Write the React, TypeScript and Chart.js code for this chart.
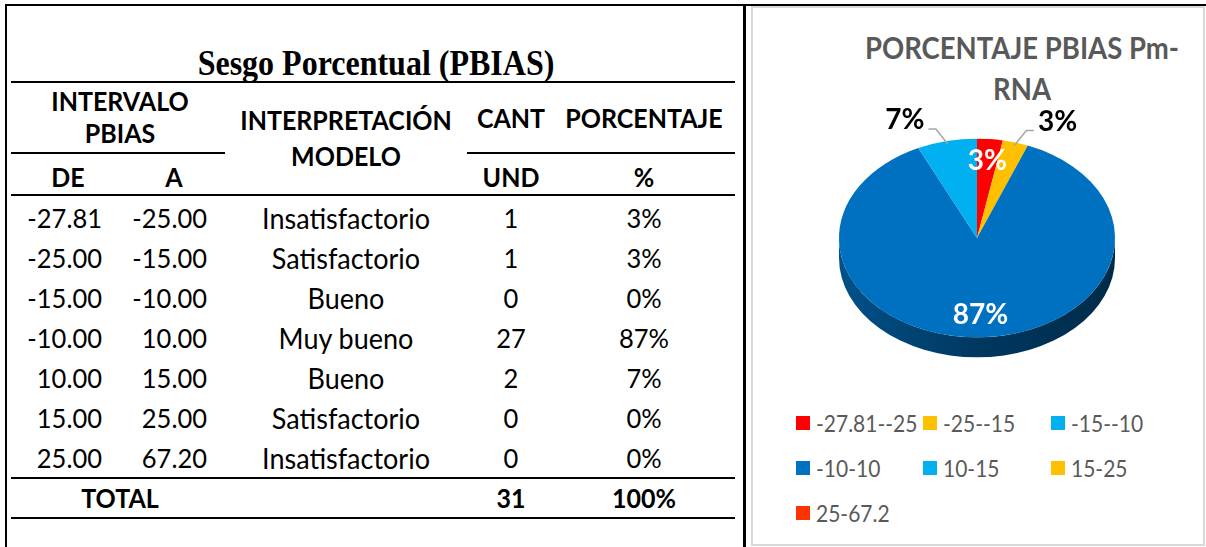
import React, { useEffect, useRef } from "react";
import { Chart, registerables } from "chart.js";

Chart.register(...registerables);

// ---------- data ----------
const TABLE_TITLE = "Sesgo Porcentual (PBIAS)";
const CHART_TITLE = ["PORCENTAJE PBIAS Pm-", "RNA"];
const DE = [-27.81, -25, -15, -10, 10, 15, 25];
const A = [-25, -15, -10, 10, 15, 25, 67.2];
const INTERPRETACION = [
  "Insatisfactorio",
  "Satisfactorio",
  "Bueno",
  "Muy bueno",
  "Bueno",
  "Satisfactorio",
  "Insatisfactorio",
];
const CANT = [1, 1, 0, 27, 2, 0, 0];
const PORCENTAJE = [3, 3, 0, 87, 7, 0, 0];
const RANGE_LABELS = DE.map((d, i) => `${d}-${A[i]}`);

// ---------- styles ----------
const SLICE_COLORS = ["#FF0000", "#FFC000", "#00B0F0", "#0070C0", "#00B0F0", "#FFC000", "#FF3300"];
const LABEL_OUTSIDE = [false, true, false, false, true, false, false];
const FONT = 'Lato, "Open Sans", sans-serif';
const TILT = 0.72;
const DEPTH = 20;

function shade(hex: string, f: number) {
  const n = parseInt(hex.slice(1), 16);
  const r = Math.round(((n >> 16) & 255) * f);
  const g = Math.round(((n >> 8) & 255) * f);
  const b = Math.round((n & 255) * f);
  return `rgb(${r},${g},${b})`;
}

const pie3d = {
  id: "pie3d",
  beforeDatasetsDraw(chart: any) {
    const meta = chart.getDatasetMeta(0);
    const arcs = meta.data as any[];
    const ctx = chart.ctx;
    chart.$tilted = false;
    if (!arcs.length) return;
    const { x: cx, y: cy, outerRadius: r } = arcs[0].getProps(["x", "y", "outerRadius"], true);
    const ry = r * TILT;
    const colors = chart.data.datasets[0].backgroundColor as string[];
    arcs.forEach((arc: any, i: number) => {
      const { startAngle, endAngle } = arc.getProps(["startAngle", "endAngle"], true);
      if (endAngle - startAngle <= 0) return;
      const ranges = [
        [0, Math.PI],
        [2 * Math.PI, 3 * Math.PI],
      ];
      for (const [lo, hi] of ranges) {
        const a = Math.max(startAngle, lo);
        const b = Math.min(endAngle, hi);
        if (b <= a) continue;
        const g = ctx.createLinearGradient(cx - r, 0, cx + r, 0);
        g.addColorStop(0, shade(colors[i], 0.72));
        g.addColorStop(0.5, shade(colors[i], 0.5));
        g.addColorStop(1, shade(colors[i], 0.38));
        ctx.beginPath();
        ctx.ellipse(cx, cy, r, ry, 0, a, b, false);
        ctx.lineTo(cx + r * Math.cos(b), cy + DEPTH + ry * Math.sin(b));
        ctx.ellipse(cx, cy + DEPTH, r, ry, 0, b, a, true);
        ctx.closePath();
        ctx.fillStyle = g;
        ctx.fill();
      }
    });
    ctx.save();
    ctx.translate(cx, cy);
    ctx.scale(1, TILT);
    ctx.translate(-cx, -cy);
    chart.$tilted = true;
  },
  afterDatasetsDraw(chart: any) {
    const ctx = chart.ctx;
    if (!chart.$tilted) return;
    ctx.restore();
    const meta = chart.getDatasetMeta(0);
    const arcs = meta.data as any[];
    const data = chart.data.datasets[0].data as number[];
    const total = data.reduce((s, v) => s + v, 0);
    ctx.save();
    ctx.font = `bold 28px ${FONT}`;
    ctx.textAlign = "center";
    ctx.textBaseline = "middle";
    arcs.forEach((arc: any, i: number) => {
      const v = data[i];
      if (!v) return;
      const { x: cx, y: cy, outerRadius: r, startAngle, endAngle } = arc.getProps(
        ["x", "y", "outerRadius", "startAngle", "endAngle"],
        true
      );
      const ry = r * TILT;
      const mid = (startAngle + endAngle) / 2;
      const cos = Math.cos(mid);
      const sin = Math.sin(mid);
      const text = `${Math.round((v / total) * 100)}%`;
      if (!LABEL_OUTSIDE[i]) {
        ctx.fillStyle = "#FFFFFF";
        ctx.fillText(text, cx + r * 0.8 * cos, cy + ry * 0.78 * sin);
      } else {
        const ex = cx + r * 0.97 * cos;
        const ey = cy + ry * 0.97 * sin;
        const side = cos >= 0 ? 1 : -1;
        const tx = cx + r * cos + side * 42;
        const ty = cy + ry * sin - 21;
        const w = ctx.measureText(text).width;
        ctx.strokeStyle = "#A6A6A6";
        ctx.lineWidth = 1.5;
        ctx.beginPath();
        ctx.moveTo(ex, ey);
        ctx.lineTo(ex + side * 12, ty + 9);
        ctx.lineTo(tx - side * (w / 2 + 4), ty + 9);
        ctx.stroke();
        ctx.fillStyle = "#000000";
        ctx.fillText(text, tx, ty);
      }
    });
    ctx.restore();
  },
};

function T(props: { x: number; y: number; align?: string; sy?: number; style?: any; children: any }) {
  const { x, y, align = "center", sy = 1.08, style, children } = props;
  const tx = align === "center" ? "-50%" : align === "right" ? "-100%" : "0";
  return (
    <div
      style={{
        position: "absolute",
        left: x,
        top: y,
        transform: `translate(${tx}, -50%) scaleY(${sy})`,
        whiteSpace: "nowrap",
        lineHeight: 1,
        ...style,
      }}
    >
      {children}
    </div>
  );
}

function HLine(props: { x1: number; x2: number; y: number; color?: string; h?: number }) {
  const { x1, x2, y, color = "#000", h = 2 } = props;
  return (
    <div style={{ position: "absolute", left: x1, top: y - h / 2, width: x2 - x1, height: h, background: color }} />
  );
}

function PieChart() {
  const ref = useRef<HTMLCanvasElement | null>(null);
  useEffect(() => {
    if (!ref.current) return;
    const chart = new Chart(ref.current, {
      type: "pie",
      data: {
        labels: RANGE_LABELS,
        datasets: [
          {
            data: PORCENTAJE,
            backgroundColor: SLICE_COLORS,
            borderWidth: 0,
          },
        ],
      },
      options: {
        animation: false,
        responsive: true,
        maintainAspectRatio: false,
        layout: { padding: 0 },
        plugins: {
          legend: { display: false },
          tooltip: { enabled: false },
          title: { display: false },
        },
      },
      plugins: [pie3d],
    });
    return () => chart.destroy();
  }, []);
  return (
    <div style={{ position: "absolute", left: 753, top: 100, width: 448, height: 276 }}>
      <canvas ref={ref} />
    </div>
  );
}

const COLS = { de: 102, a: 207, deH: 68, aH: 174, interp: 346, cant: 511, porc: 644 };
const ROW0 = 218;
const ROW_H = 40;

export default function App() {
  const body = { fontFamily: FONT, fontSize: 25.5, color: "#000" };
  const bodyText = { fontFamily: FONT, fontSize: 27, color: "#000" };
  const head = { fontFamily: FONT, fontSize: 25, fontWeight: 700, color: "#000" };
  const totalRowY = ROW0 + DE.length * ROW_H;
  const legendCols = [796, 923, 1051];
  const legendRows = [423, 468, 513];
  return (
    <div
      style={{
        position: "absolute",
        left: 0,
        top: 0,
        width: 1206,
        height: 547,
        overflow: "hidden",
        background: "#fff",
      }}
    >
      {/* outer cell borders */}
      <HLine x1={5} x2={1206} y={5} />
      <div style={{ position: "absolute", left: 5, top: 4, width: 2, height: 543, background: "#000" }} />
      <div style={{ position: "absolute", left: 743, top: 4, width: 3, height: 543, background: "#000" }} />
      <div
        style={{
          position: "absolute",
          left: 751,
          top: 6,
          width: 454,
          height: 540,
          border: "2px solid #D9D9D9",
          boxSizing: "border-box",
        }}
      />

      {/* table */}
      <T x={376} y={63} sy={1.12} style={{ fontFamily: '"Liberation Serif", serif', fontWeight: 700, fontSize: 32 }}>
        {TABLE_TITLE}
      </T>
      <HLine x1={11} x2={735} y={82} />
      <T x={120} y={101} style={head}>INTERVALO</T>
      <T x={120} y={133} style={head}>PBIAS</T>
      <T x={COLS.interp} y={120} style={head}>INTERPRETACIÓN</T>
      <T x={COLS.interp} y={156} style={head}>MODELO</T>
      <T x={COLS.cant} y={118} style={head}>CANT</T>
      <T x={COLS.porc} y={118} style={head}>PORCENTAJE</T>
      <HLine x1={11} x2={225} y={153} />
      <HLine x1={467} x2={735} y={153} />
      <T x={COLS.deH} y={177} style={head}>DE</T>
      <T x={COLS.aH} y={177} style={head}>A</T>
      <T x={COLS.cant} y={177} style={head}>UND</T>
      <T x={COLS.porc} y={177} style={head}>%</T>
      <HLine x1={11} x2={735} y={195} />
      {DE.map((d, i) => {
        const y = ROW0 + i * ROW_H;
        return (
          <React.Fragment key={i}>
            <T x={COLS.de} y={y} align="right" style={body}>{d.toFixed(2)}</T>
            <T x={COLS.a} y={y} align="right" style={body}>{A[i].toFixed(2)}</T>
            <T x={COLS.interp} y={y} style={bodyText}>{INTERPRETACION[i]}</T>
            <T x={COLS.cant} y={y} style={body}>{CANT[i]}</T>
            <T x={COLS.porc} y={y} style={body}>{PORCENTAJE[i]}%</T>
          </React.Fragment>
        );
      })}
      <HLine x1={11} x2={735} y={478} />
      <T x={120} y={totalRowY} style={head}>TOTAL</T>
      <T x={COLS.cant} y={totalRowY} style={head}>{CANT.reduce((s, v) => s + v, 0)}</T>
      <T x={COLS.porc} y={totalRowY} style={head}>{PORCENTAJE.reduce((s, v) => s + v, 0)}%</T>
      <HLine x1={11} x2={735} y={518} />

      {/* chart */}
      <T x={1022} y={48} style={{ fontFamily: FONT, fontWeight: 700, fontSize: 27.5, color: "#595959" }}>
        {CHART_TITLE[0]}
      </T>
      <T x={1022} y={89} style={{ fontFamily: FONT, fontWeight: 700, fontSize: 27.5, color: "#595959" }}>
        {CHART_TITLE[1]}
      </T>
      <PieChart />
      {RANGE_LABELS.map((lab, i) => {
        const x = legendCols[i % 3];
        const y = legendRows[Math.floor(i / 3)];
        return (
          <React.Fragment key={lab}>
            <div
              style={{ position: "absolute", left: x, top: y - 7, width: 14, height: 14, background: SLICE_COLORS[i] }}
            />
            <T x={x + 20} y={y} align="left" style={{ fontFamily: FONT, fontSize: 21, color: "#595959" }}>
              {lab}
            </T>
          </React.Fragment>
        );
      })}
    </div>
  );
}
